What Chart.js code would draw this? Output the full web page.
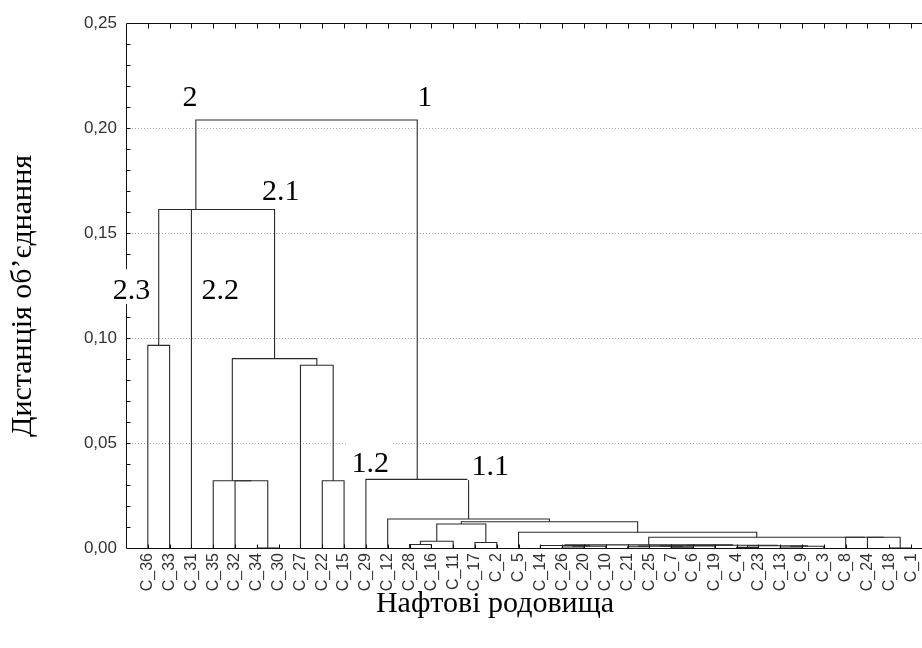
<!DOCTYPE html>
<html><head><meta charset="utf-8">
<script src="https://cdn.jsdelivr.net/npm/chart.js@4.4.1/dist/chart.umd.min.js"></script>
<style>html,body{margin:0;padding:0;background:#fff;overflow:hidden}</style>
</head><body>
<canvas id="c" width="922" height="648"></canvas>
<script>
// Leaf order along the x axis
const leaves = ['C_36','C_33','C_31','C_35','C_32','C_34','C_30','C_27','C_22','C_15','C_29','C_12','C_28','C_16','C_11','C_17','C_2','C_5','C_14','C_26','C_20','C_10','C_21','C_25','C_7','C_6','C_19','C_4','C_23','C_13','C_9','C_3','C_8','C_24','C_18','C_1'];
// Agglomeration steps: children are leaf names or '#k' (k = earlier step), height = linkage distance
const mergeLeft  = ['C_34','C_32','C_35','C_22','C_27','#2','C_36','C_31','#6','C_28','#9','C_17','#10','C_26','#13','C_14','C_7','C_21','#17','#18','C_13','#20','C_4','#22','#19','#15','C_18','C_24','C_8','#25','C_5','#12','C_12','C_29','#8'];
const mergeRight = ['C_30','#0','#1','C_15','#3','#4','C_33','#5','#7','C_16','C_11','C_2','#11','C_20','C_10','#14','C_6','C_25','#16','C_19','C_9','C_3','C_23','#21','#23','#24','C_1','#26','#27','#28','#29','#30','#31','#32','#33'];
const mergeHeight = [0.0000,0.0320,0.0320,0.0320,0.0870,0.0902,0.0965,0.1612,0.1612,0.0017,0.0032,0.0026,0.0114,0.0005,0.0008,0.0012,0.0004,0.0006,0.0009,0.0010,0.0005,0.0008,0.0003,0.0011,0.0013,0.0015,0.0000,0.0051,0.0051,0.0051,0.0075,0.0125,0.0138,0.0327,0.2038];
// Y axis tick values and labels
const yTickValues = [0, 0.05, 0.10, 0.15, 0.20, 0.25];
const yTickLabels = ['0,00','0,05','0,10','0,15','0,20','0,25'];
// Cluster annotations (text, anchor in data units: leaf index, distance at baseline)
const clusterText = ['2','1','2.1','2.2','2.3','1.2','1.1'];
const clusterAtX  = [2.93, 13.70, 7.10, 4.32, 0.25, 11.20, 16.70];
const clusterAtY  = [0.2105, 0.2105, 0.1656, 0.1185, 0.1185, 0.0361, 0.0347];
const xTitle = 'Нафтові родовища';
const yTitle = 'Дистанція об’єднання';

const nodes = [];
function pos(ref) {
  if (ref[0] === '#') return nodes[+ref.slice(1)];
  return { x: leaves.indexOf(ref) + 1, h: 0 };
}
const datasets = [];
for (let k = 0; k < mergeHeight.length; k++) {
  const L = pos(mergeLeft[k]), R = pos(mergeRight[k]), h = mergeHeight[k];
  datasets.push({
    data: [{x: L.x, y: L.h}, {x: L.x, y: h}, {x: R.x, y: h}, {x: R.x, y: R.h}],
    showLine: true, pointRadius: 0, borderColor: '#2a2a2a', borderWidth: 1.1, tension: 0, fill: false
  });
  nodes[k] = { x: (L.x + R.x) / 2, h: h };
}

const decor = {
  id: 'decor',
  beforeDatasetsDraw(chart) {
    const {ctx, chartArea: a, scales: {y}} = chart;
    ctx.save();
    ctx.strokeStyle = '#a8a8a8'; ctx.lineWidth = 1; ctx.setLineDash([1, 2]);
    yTickValues.forEach(v => {
      if (v <= 0 || v >= 0.25) return;
      const py = Math.round(y.getPixelForValue(v)) + 0.5;
      ctx.beginPath(); ctx.moveTo(a.left, py); ctx.lineTo(a.right, py); ctx.stroke();
    });
    ctx.restore();
  },
  afterDatasetsDraw(chart) {
    const {ctx, chartArea: a, scales: {x, y}} = chart;
    ctx.save();
    ctx.strokeStyle = '#111'; ctx.lineWidth = 1;
    const L = Math.round(a.left) + 0.5, T = Math.round(a.top) + 0.5, B = Math.round(a.bottom) + 0.5;
    ctx.beginPath();
    ctx.moveTo(a.right, T); ctx.lineTo(L, T); ctx.lineTo(L, B); ctx.lineTo(a.right, B);
    ctx.stroke();
    ctx.beginPath();
    for (let i = 1; i < 25; i++) {
      const py = Math.round(y.getPixelForValue(i / 100)) + 0.5;
      ctx.moveTo(L, py); ctx.lineTo(L + 4, py);
    }
    leaves.forEach((n, i) => {
      const px = Math.round(x.getPixelForValue(i + 1)) + 0.5;
      ctx.moveTo(px, T); ctx.lineTo(px, T + 5);
      ctx.moveTo(px, B); ctx.lineTo(px, B - 4);
    });
    ctx.stroke();
    ctx.restore();
  },
  afterDraw(chart) {
    const {ctx, chartArea: a, scales: {x, y}} = chart;
    ctx.save();
    ctx.font = '30px "Liberation Serif"';
    ctx.textAlign = 'center'; ctx.textBaseline = 'alphabetic';
    clusterText.forEach((t, i) => {
      const px = x.getPixelForValue(clusterAtX[i]);
      const py = y.getPixelForValue(clusterAtY[i]);
      const w = ctx.measureText(t).width;
      ctx.fillStyle = '#fff';
      ctx.fillRect(px - w / 2 - 4, py - 30, w + 8, 35);
      ctx.fillStyle = '#000';
      ctx.fillText(t, px, py);
    });
    ctx.font = '30px "Liberation Serif"';
    ctx.fillStyle = '#000';
    ctx.fillText(xTitle, 495, 612);
    ctx.translate(31, 296);
    ctx.rotate(-Math.PI / 2);
    ctx.fillText(yTitle, 0, 0);
    ctx.restore();
  }
};

new Chart(document.getElementById('c'), {
  type: 'scatter',
  data: { datasets },
  options: {
    responsive: false, animation: false, devicePixelRatio: 1,
    layout: { padding: { top: 23, left: 0, right: 0, bottom: 0 } },
    plugins: { legend: { display: false }, tooltip: { enabled: false } },
    scales: {
      x: {
        type: 'linear', min: 0, max: 36.5,
        afterBuildTicks: s => { s.ticks = leaves.map((n, i) => ({ value: i + 1 })); },
        afterFit: s => { s.height = 100; s.paddingLeft = 0; s.paddingRight = 0; },
        grid: { display: false, drawTicks: false }, border: { display: false },
        ticks: { autoSkip: false, minRotation: 90, maxRotation: 90, padding: 5, color: '#333',
                 font: { family: 'Liberation Sans', size: 16 }, callback: (v, i) => leaves[i] }
      },
      y: {
        type: 'linear', min: 0, max: 0.25,
        afterBuildTicks: s => { s.ticks = yTickValues.map(v => ({ value: v })); },
        afterFit: s => { s.width = 126; s.paddingTop = 0; s.paddingBottom = 0; },
        grid: { display: false, drawTicks: false }, border: { display: false },
        ticks: { padding: 9, color: '#333', font: { family: 'Liberation Sans', size: 17 },
                 callback: (v, i) => yTickLabels[i] }
      }
    }
  },
  plugins: [decor]
});
</script>
</body></html>
